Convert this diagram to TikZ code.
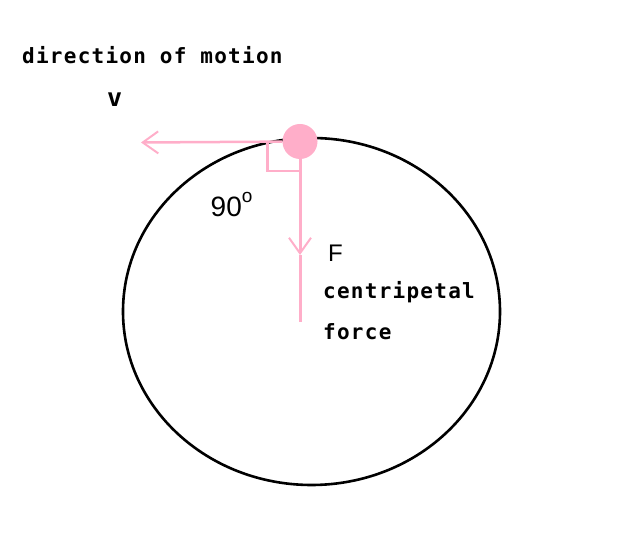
\documentclass[tikz,border=0pt]{standalone}
\usepackage{fontspec}
\usepackage{tikz}
\usetikzlibrary{arrows.meta}
\newfontfamily\monolabel{DejaVu Sans Mono}[LetterSpace=6]
\newfontfamily\sanslabel{Liberation Sans}
\definecolor{rose}{RGB}{255,174,201}
\tikzset{
	force/.style={draw=rose,line width=2.5pt},
	barb/.style={-{Straight Barb[length=15.5pt,width=22pt,line width=2pt]}},
	mono/.style={inner sep=0pt,anchor=base west,font=\monolabel\bfseries\fontsize{21}{25}\selectfont},
	sans/.style={inner sep=0pt,anchor=base west,font=\sanslabel\fontsize{24}{28}\selectfont}
}

\begin{document}
\begin{tikzpicture}[x=1pt,y=-1pt]
	\useasboundingbox (0,0) rectangle (625,534);
	\draw[line width=2.6pt] (311.5,311.5) ellipse [x radius=188.5pt,y radius=173.5pt];

	\node[circle,fill=rose,inner sep=0pt,minimum size=35pt](ball) at (300,141.5) {};
	\coordinate (vtip) at (141,142.5);
	\coordinate (ftip) at (300,255);
	\coordinate (fend) at (300,322.5);

	\draw[force,barb,line width=2.5pt] (ball) -- (vtip);
	\draw[force,barb,line width=3pt] (ball) -- (ftip);
	\draw[force,line width=3pt] (ftip) -- (fend);
	\draw[force] (267.5,141) |- (300,171);

	\node[mono](motion) at (22,63.3) {direction of motion};
	\node[mono,font=\monolabel\bfseries\fontsize{25}{30}\selectfont](vlabel) at (107,107) {v};
	\node[sans](flabel) at (328,262) {F};
	\node[sans,font=\sanslabel\fontsize{28}{32}\selectfont](angle) at (210.5,216.7) {90\raisebox{13.7pt}{\fontsize{19}{19}\selectfont o}};
	\node[mono](centripetal) at (323,298.3) {centripetal};
	\node[mono](forcelabel) at (323,339.5) {force};
\end{tikzpicture}
\end{document}
